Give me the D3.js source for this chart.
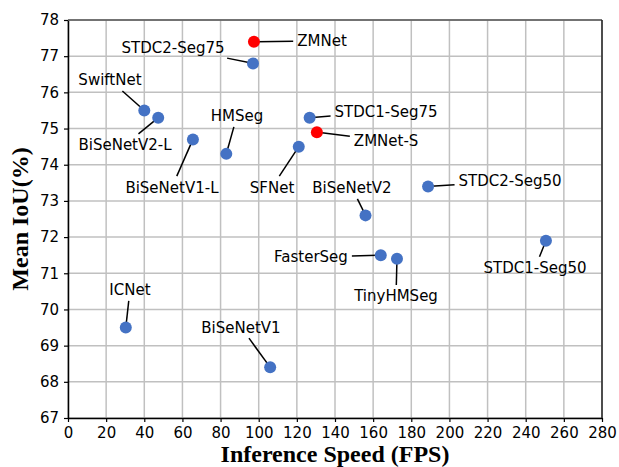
<!DOCTYPE html>
<html>
<head>
<meta charset="utf-8">
<script src="https://cdn.jsdelivr.net/npm/d3@7"></script>
<style>
  body { margin: 0; background: #fff; }
  svg { display: block; }
</style>
</head>
<body>
<div id="chart"></div>
<script>
// methods, speed (FPS) and mIoU (%)
var names = ["ZMNet", "ZMNet-S", "STDC2-Seg75", "SwiftNet", "BiSeNetV2-L", "BiSeNetV1-L", "HMSeg", "SFNet",
             "STDC1-Seg75", "BiSeNetV2", "STDC2-Seg50", "FasterSeg", "TinyHMSeg", "STDC1-Seg50", "ICNet", "BiSeNetV1"];
var fps  = [97.5, 130.5, 97, 40, 47.3, 65.5, 83, 121, 126.7, 156, 188.8, 164, 172.5, 250.6, 30.3, 106];
var miou = [77.4, 74.9, 76.8, 75.5, 75.3, 74.7, 74.3, 74.5, 75.3, 72.6, 73.4, 71.5, 71.4, 71.9, 69.5, 68.4];
var ours = ["ZMNet", "ZMNet-S"];

// where the annotation text sits (data units, text centre)
var labelX = [133.2, 166.8, 55.1, 22.0, 29.9, 54.5, 88.6, 107.0, 166.8, 148.9, 231.8, 127.4, 172.0, 244.9, 32.5, 90.7];
var labelY = [77.42, 74.66, 77.25, 76.34, 74.55, 73.38, 75.35, 73.38, 75.46, 73.36, 73.55, 71.45, 70.37, 71.15, 70.54, 69.51];

var xTicks = d3.range(0, 281, 20);
var yTicks = d3.range(67, 79, 1);

var W = 619, H = 467;
var margin = {top: 20, right: 17, bottom: 49, left: 68};
var width = W - margin.left - margin.right,
    height = H - margin.top - margin.bottom;

var x = d3.scaleLinear().domain([0, 280]).range([0, width]);
var y = d3.scaleLinear().domain([67, 78]).range([height, 0]);

var svg = d3.select("#chart").append("svg")
    .attr("width", W)
    .attr("height", H)
  .append("g")
    .attr("transform", "translate(" + margin.left + "," + margin.top + ")");

// grid
svg.append("g").selectAll("line").data(xTicks).enter().append("line")
    .attr("x1", x).attr("x2", x).attr("y1", 0).attr("y2", height)
    .attr("stroke", "#c0c0c0").attr("stroke-width", 1.5);
svg.append("g").selectAll("line").data(yTicks).enter().append("line")
    .attr("y1", y).attr("y2", y).attr("x1", 0).attr("x2", width)
    .attr("stroke", "#c0c0c0").attr("stroke-width", 1.5);

// axes
var xAxis = svg.append("g")
    .attr("transform", "translate(0," + height + ")")
    .call(d3.axisBottom(x).tickValues(xTicks).tickSize(4).tickPadding(5).tickSizeOuter(0));
var yAxis = svg.append("g")
    .call(d3.axisLeft(y).tickValues(yTicks).tickSize(4).tickPadding(5).tickSizeOuter(0));

[xAxis, yAxis].forEach(function(a) {
  a.selectAll("text").style("font-family", "DejaVu Sans").style("font-size", "15px").attr("fill", "#000");
  a.selectAll("line").attr("stroke", "#000").attr("stroke-width", 1.2);
  a.select(".domain").attr("stroke", "#000").attr("stroke-width", 1.5);
});

// top & right spines
svg.append("line").attr("x1", 0).attr("x2", width).attr("y1", 0).attr("y2", 0)
    .attr("stroke", "#555").attr("stroke-width", 1.5);
svg.append("line").attr("x1", width).attr("x2", width).attr("y1", 0).attr("y2", height)
    .attr("stroke", "#222").attr("stroke-width", 1.5);

// axis titles
svg.append("text")
    .attr("x", width / 2).attr("y", height + 44)
    .attr("text-anchor", "middle")
    .style("font-family", "Liberation Serif").style("font-weight", "bold").style("font-size", "24px")
    .text("Inference Speed (FPS)");
svg.append("text")
    .attr("transform", "translate(" + (-40) + "," + (height / 2) + ") rotate(-90)")
    .attr("text-anchor", "middle")
    .style("font-family", "Liberation Serif").style("font-weight", "bold").style("font-size", "24px")
    .text("Mean IoU(%)");

var items = names.map(function(n, i) {
  return {name: n, fps: fps[i], miou: miou[i], lx: labelX[i], ly: labelY[i]};
});

var lines = svg.append("g");
var labels = svg.append("g");

// annotation texts
labels.selectAll("text").data(items).enter().append("text")
    .attr("x", function(d) { return x(d.lx); })
    .attr("y", function(d) { return y(d.ly); })
    .attr("text-anchor", "middle")
    .attr("dy", "0.36em")
    .style("font-family", "DejaVu Sans").style("font-size", "15px")
    .text(function(d) { return d.name; })
    .each(function(d) { d.box = this.getBBox(); });

// connector lines, clipped to the text box like matplotlib annotate
lines.selectAll("line").data(items).enter().append("line")
    .each(function(d) {
      var cx = x(d.lx), cy = y(d.ly), px = x(d.fps), py = y(d.miou);
      var dx = px - cx, dy = py - cy;
      var hw = d.box.width / 2 + 4, hh = d.box.height / 2 + 2;
      var t = Math.min(dx ? hw / Math.abs(dx) : Infinity, dy ? hh / Math.abs(dy) : Infinity);
      var len = Math.sqrt(dx * dx + dy * dy);
      var s = 1 - 3 / len;
      d3.select(this)
        .attr("x1", cx + dx * t).attr("y1", cy + dy * t)
        .attr("x2", cx + dx * s).attr("y2", cy + dy * s)
        .attr("stroke", "#000").attr("stroke-width", 1.5);
    });

// points
svg.append("g").selectAll("circle").data(items).enter().append("circle")
    .attr("cx", function(d) { return x(d.fps); })
    .attr("cy", function(d) { return y(d.miou); })
    .attr("r", 6)
    .attr("fill", function(d) { return ours.indexOf(d.name) >= 0 ? "#ff0000" : "#4472c4"; });
</script>
</body>
</html>
